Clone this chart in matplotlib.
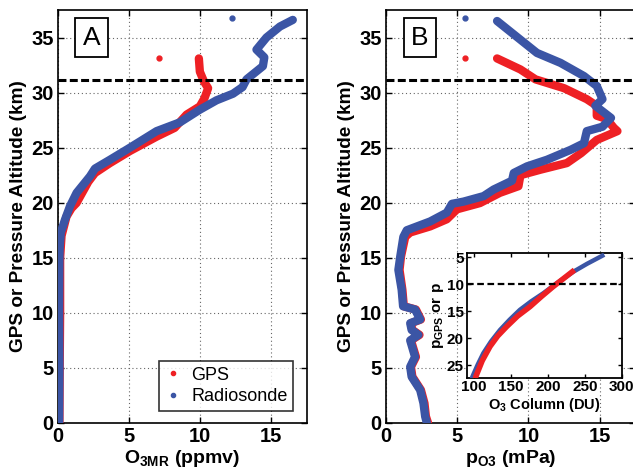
import matplotlib
matplotlib.use("Agg")
import matplotlib.pyplot as plt

plt.rcParams["font.family"] = ["Liberation Sans", "DejaVu Sans"]
plt.rcParams["font.weight"] = "bold"
plt.rcParams["mathtext.default"] = "regular"
plt.rcParams["xtick.direction"] = "in"
plt.rcParams["ytick.direction"] = "in"
plt.rcParams["xtick.top"] = True
plt.rcParams["ytick.right"] = True

red = "#ee2024"
blue = "#3b55a5"

# Panel A: ozone mixing ratio (ppmv) vs altitude (km)
a_radio_x = [0.08, 0.1, 0.08, 0.1, 0.12, 0.2, 0.49, 0.84, 1.31, 2.25, 2.6, 3.65, 5.06, 6.93, 8.57, 9.97,
             11.14, 12.3, 12.97, 13.25, 14.4, 14.5, 13.95, 14.65, 15.6, 16.5]
a_radio_z = [0, 5, 10, 15, 16, 17.3, 18.45, 19.67, 20.9, 22.4, 23.1, 23.9, 25.0, 26.5, 27.3, 28.45,
             29.3, 29.9, 30.5, 31.2, 32.4, 33.2, 33.9, 35.0, 36.0, 36.6]
a_gps_x = [0.1, 0.12, 0.15, 0.15, 0.25, 0.45, 0.6, 0.95, 1.3, 2.13, 2.6, 3.65, 5.06, 6.93, 8.2, 9.04,
           9.97, 10.3, 10.55, 10.26, 9.97, 9.9]
a_gps_z = [0, 5, 10, 15, 17, 18.0, 18.75, 19.5, 19.97, 21.9, 22.7, 23.6, 24.7, 26.0, 26.8, 28.0,
           28.75, 29.5, 30.4, 31.0, 31.9, 33.1]
a_out_gps = (7.1, 33.1)
a_out_radio = (12.24, 36.8)

# Panel B: ozone partial pressure (mPa) vs altitude (km)
b_radio_x = [2.87, 2.75, 2.63, 2.4, 1.8, 1.7, 2.04, 1.7, 2.28, 1.8, 1.7, 2.4, 2.04, 1.2, 1.1, 0.87,
             1.0, 1.22, 1.46, 3.1, 4.27, 4.63, 5.44, 6.85, 7.56, 8.85, 8.97, 9.9, 11.3, 12.96, 13.9,
             14.1, 15.2, 15.8, 14.7, 15.2, 14.8, 13.9, 12.25, 10.6, 9.44, 7.8]
b_radio_z = [0, 0.6, 1.8, 3.0, 4.2, 5.1, 6.0, 7.5, 8.0, 8.45, 9.06, 9.4, 10.3, 10.6, 12.1, 13.9,
             15.1, 16.9, 17.5, 18.3, 19.1, 19.9, 20.1, 20.6, 21.2, 22.0, 22.7, 23.3, 23.9, 24.8, 25.4,
             26.5, 26.9, 27.7, 28.8, 29.4, 30.6, 31.5, 32.7, 33.6, 34.8, 36.5]
b_gps_x = [2.95, 2.8, 2.7, 2.45, 1.85, 1.75, 2.1, 1.75, 2.35, 1.85, 1.75, 2.45, 2.1, 1.25, 1.15, 0.95,
           1.05, 1.35, 1.7, 3.1, 4.27, 4.98, 6.6, 8.0, 9.3, 9.44, 10.85, 12.7, 13.7, 14.8, 16.25,
           16.0, 15.5, 14.8, 14.8, 14.1, 12.5, 10.5, 9.44, 7.8]
b_gps_z = [0, 0.6, 1.8, 3.0, 4.2, 5.1, 6.0, 7.5, 8.0, 8.45, 9.06, 9.4, 10.3, 10.6, 12.1, 13.9,
           15.1, 16.9, 17.3, 17.85, 18.5, 19.4, 19.97, 20.9, 21.5, 22.5, 23.0, 23.6, 24.5, 25.7, 26.5,
           26.8, 27.6, 27.9, 28.8, 29.4, 30.4, 31.2, 32.1, 33.1]
b_out_gps = (5.56, 33.1)
b_out_radio = (5.52, 36.8)

# Inset: ozone column (DU) vs pressure
ins_radio_du = [96.5, 97.6, 105, 112.5, 123, 135, 148, 162, 177, 193.8, 212, 234.5, 253, 273.7]
ins_radio_p = [28.0, 27.2, 24.9, 22.8, 20.6, 18.5, 16.6, 14.75, 13.2, 11.66, 9.8, 7.67, 6.2, 4.7]
ins_gps_du = [101.5, 102.2, 111, 121.6, 132, 144.2, 159, 175.8, 191, 207, 233]
ins_gps_p = [28.0, 27.2, 24.2, 21.55, 19.6, 17.85, 15.9, 14.15, 12.3, 10.45, 7.67]

tropo_alt = 31.1
inset_level = 10

fig = plt.figure(figsize=(6.33, 4.69), dpi=100)
axA = fig.add_axes([0.0916, 0.0981, 0.3934, 0.8806])
axB = fig.add_axes([0.6098, 0.0981, 0.3937, 0.8806])

lw = 6.0
for ax, gx, gz, rx, rz, og, orad, lab, xl in [
        (axA, a_gps_x, a_gps_z, a_radio_x, a_radio_z, a_out_gps, a_out_radio, "A",
         "O$_{3MR}$ (ppmv)"),
        (axB, b_gps_x, b_gps_z, b_radio_x, b_radio_z, b_out_gps, b_out_radio, "B",
         "p$_{O3}$ (mPa)")]:
    ax.plot(gx, gz, color=red, lw=lw, solid_capstyle="round", solid_joinstyle="round", zorder=3)
    ax.plot(rx, rz, color=blue, lw=lw, solid_capstyle="round", solid_joinstyle="round", zorder=4)
    ax.plot(*og, "o", color=red, ms=3.5, zorder=4)
    ax.plot(*orad, "o", color=blue, ms=3.5, zorder=4)
    ax.axhline(tropo_alt, color="black", lw=2.2, dashes=(2.6, 1.1), zorder=5)
    ax.set_xlim(0, 17.5)
    ax.set_ylim(0, 37.5)
    ax.set_xticks([0, 5, 10, 15])
    ax.set_yticks([0, 5, 10, 15, 20, 25, 30, 35])
    ax.grid(True, linestyle=(0, (1, 2.5)), color="#666666", lw=0.8)
    ax.tick_params(labelsize=14.5, length=4, width=1, pad=3)
    for s in ax.spines.values():
        s.set_linewidth(1.2)
    ax.set_xlabel(xl, fontsize=14, fontweight="bold", labelpad=1)
    ax.set_ylabel("GPS or Pressure Altitude (km)", fontsize=13.7, fontweight="bold", labelpad=3)
    ax.text(0.135, 0.933, lab, transform=ax.transAxes, fontsize=19, fontweight="normal",
            ha="center", va="center", zorder=6,
            bbox=dict(boxstyle="square,pad=0.28", fc="white", ec="black", lw=1.3))

# legend in panel A
hg, = axA.plot([], [], ".", color=red, ms=6, label="GPS")
hr, = axA.plot([], [], ".", color=blue, ms=6, label="Radiosonde")
leg = axA.legend(handles=[hg, hr], loc="lower right", bbox_to_anchor=(0.945, 0.03),
                 prop={"weight": "normal", "size": 13}, frameon=True,
                 fancybox=False, handlelength=1.0, handletextpad=0.5, borderpad=0.3,
                 labelspacing=0.25, borderaxespad=0)
leg.get_frame().set_edgecolor("black")
leg.get_frame().set_linewidth(1.2)

# inset
axI = fig.add_axes([0.7373, 0.1947, 0.2449, 0.2652])
axI.plot(ins_radio_du, ins_radio_p, color=blue, lw=3.2, zorder=3)
axI.plot(ins_gps_du, ins_gps_p, color=red, lw=4, zorder=4)
axI.axhline(inset_level, color="black", lw=1.6, dashes=(3, 1.6), zorder=5)
axI.set_xlim(90, 300)
axI.set_ylim(27.35, 4.25)
axI.set_xticks([100, 150, 200, 250, 300])
axI.set_yticks([5, 10, 15, 20, 25])
axI.tick_params(labelsize=11, length=3, width=1, pad=2)
for s in axI.spines.values():
    s.set_linewidth(1.3)
axI.set_xlabel("O$_3$ Column (DU)", fontsize=10.5, fontweight="bold", labelpad=1)
axI.set_ylabel("p$_{GPS}$ or p", fontsize=11, fontweight="bold", labelpad=1)

fig.savefig("out.png", dpi=100)
